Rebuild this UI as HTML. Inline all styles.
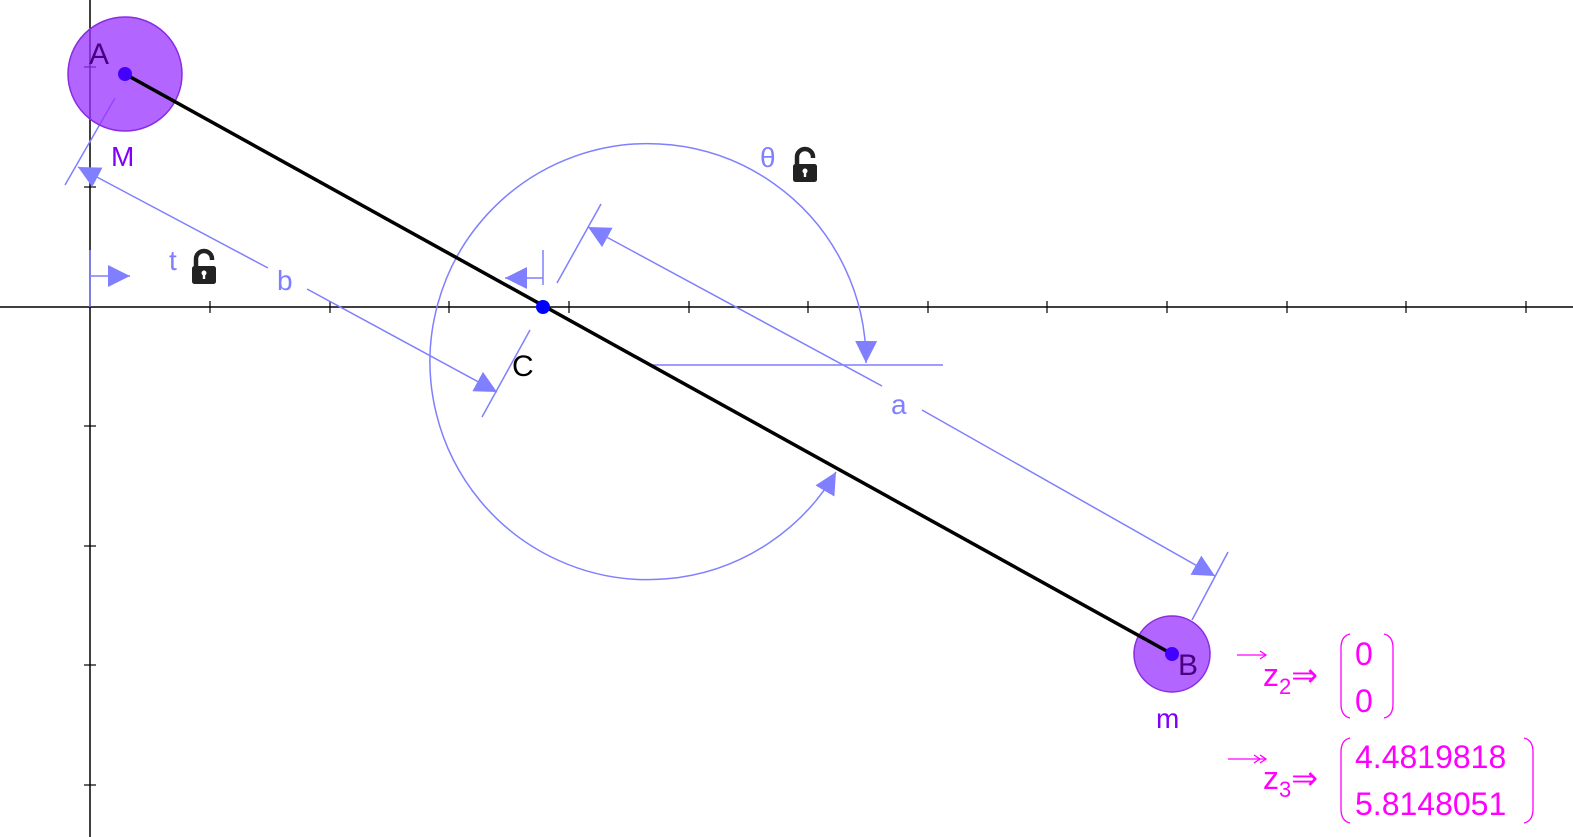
<!DOCTYPE html>
<html><head><style>body{margin:0;background:#fff}svg{display:block}</style></head><body>
<svg width="1573" height="837" viewBox="0 0 1573 837" xmlns="http://www.w3.org/2000/svg" font-family="Liberation Sans, sans-serif">
<defs>
<marker id="ar" viewBox="0 0 10 10" refX="10" refY="5" markerWidth="22" markerHeight="22" markerUnits="userSpaceOnUse" orient="auto-start-reverse"><path d="M0,0 L10,5 L0,10 z" fill="#7f7fff"/></marker>
<g id="lock"><path d="M-8,-2 v-7 a8,8 0 0 1 16,0 v1" fill="none" stroke="#222" stroke-width="4.5"/><rect x="-12" y="-2" width="24" height="18" rx="2.5" fill="#222"/><circle cx="0" cy="5" r="2.5" fill="#fff"/><rect x="-1.2" y="5" width="2.4" height="6" fill="#fff"/></g>
</defs>
<g stroke="#000" stroke-width="1.5">
<line x1="0" y1="307" x2="1573" y2="307"/><line x1="90" y1="0" x2="90" y2="837"/>
<g stroke-width="1.2">
<line x1="210" y1="301" x2="210" y2="313"/><line x1="330" y1="301" x2="330" y2="313"/><line x1="449" y1="301" x2="449" y2="313"/><line x1="569" y1="301" x2="569" y2="313"/><line x1="689" y1="301" x2="689" y2="313"/><line x1="808" y1="301" x2="808" y2="313"/><line x1="928" y1="301" x2="928" y2="313"/><line x1="1047" y1="301" x2="1047" y2="313"/><line x1="1167" y1="301" x2="1167" y2="313"/><line x1="1287" y1="301" x2="1287" y2="313"/><line x1="1406" y1="301" x2="1406" y2="313"/><line x1="1526" y1="301" x2="1526" y2="313"/>
<line x1="84" y1="67" x2="96" y2="67"/><line x1="84" y1="187" x2="96" y2="187"/><line x1="84" y1="426" x2="96" y2="426"/><line x1="84" y1="546" x2="96" y2="546"/><line x1="84" y1="665" x2="96" y2="665"/><line x1="84" y1="785" x2="96" y2="785"/>
</g></g>
<g stroke="#7f7fff" stroke-width="1.5" fill="none">
<path d="M866,363 A218,218 0 1 0 836,472" marker-start="url(#ar)" marker-end="url(#ar)"/>
<line x1="652" y1="365" x2="943" y2="365"/>
<line x1="65" y1="185" x2="115" y2="98"/><line x1="482" y1="417" x2="530" y2="330"/>
<line x1="268" y1="268" x2="78" y2="167" marker-end="url(#ar)"/>
<line x1="307" y1="289" x2="497" y2="392" marker-end="url(#ar)"/>
<line x1="557" y1="283" x2="601" y2="204"/><line x1="1192" y1="620" x2="1228" y2="552"/>
<line x1="882" y1="386" x2="588" y2="227" marker-end="url(#ar)"/>
<line x1="922" y1="410" x2="1215" y2="576" marker-end="url(#ar)"/>
<line x1="90" y1="250" x2="90" y2="307"/><line x1="90" y1="276" x2="130" y2="276" marker-end="url(#ar)"/>
<line x1="543" y1="250" x2="543" y2="285"/><line x1="543" y1="278" x2="505" y2="278" marker-end="url(#ar)"/>
</g>
<g fill="#7f7fff" font-size="28"><text x="277" y="290">b</text><text x="891" y="414">a</text><text x="760" y="167">θ</text><text x="169" y="270">t</text></g>
<use href="#lock" x="805" y="166"/><use href="#lock" x="204" y="268"/>
<circle cx="125" cy="74" r="57" fill="#9933ff" fill-opacity="0.75" stroke="#8a2be2" stroke-width="1.5"/>
<circle cx="1172" cy="654" r="38" fill="#9933ff" fill-opacity="0.75" stroke="#8a2be2" stroke-width="1.5"/>
<line x1="125" y1="74" x2="1172" y2="654" stroke="#000" stroke-width="3.5"/>
<circle cx="125" cy="74" r="7" fill="#4400ff"/><circle cx="1172" cy="654" r="7" fill="#4400ff"/>
<circle cx="543" cy="307" r="7" fill="#0000ff"/>
<text x="89" y="64" font-size="30" fill="#4b0082">A</text>
<text x="1178" y="675" font-size="30" fill="#4b0082">B</text>
<text x="111" y="166" font-size="28" fill="#8000ff">M</text>
<text x="1156" y="728" font-size="28" fill="#8000ff">m</text>
<text x="512" y="376" font-size="30" fill="#000">C</text>
<g fill="#ff00ff" stroke="none" font-size="32">
<text x="1263" y="686">z<tspan font-size="22" dy="8">2</tspan><tspan dy="-8">⇒</tspan></text>
<text x="1263" y="789">z<tspan font-size="22" dy="8">3</tspan><tspan dy="-8">⇒</tspan></text>
<text x="1355" y="665">0</text><text x="1355" y="712">0</text>
<text x="1355" y="768">4.4819818</text><text x="1355" y="815">5.8148051</text>
</g>
<g stroke="#ff00ff" stroke-width="1.3" fill="none">
<line x1="1237" y1="655" x2="1265" y2="655"/><path d="M1260,651 L1266,655 L1260,659"/>
<line x1="1228" y1="759" x2="1265" y2="759"/><path d="M1254,755 L1260,759 L1254,763 M1260,755 L1266,759 L1260,763"/>
<path d="M1350,634 Q1341,636 1341,648 L1341,704 Q1341,716 1350,718"/>
<path d="M1384,634 Q1393,636 1393,648 L1393,704 Q1393,716 1384,718"/>
<path d="M1350,738 Q1341,740 1341,752 L1341,809 Q1341,821 1350,823"/>
<path d="M1524,738 Q1533,740 1533,752 L1533,809 Q1533,821 1524,823"/>
</g>
</svg>
</body></html>
